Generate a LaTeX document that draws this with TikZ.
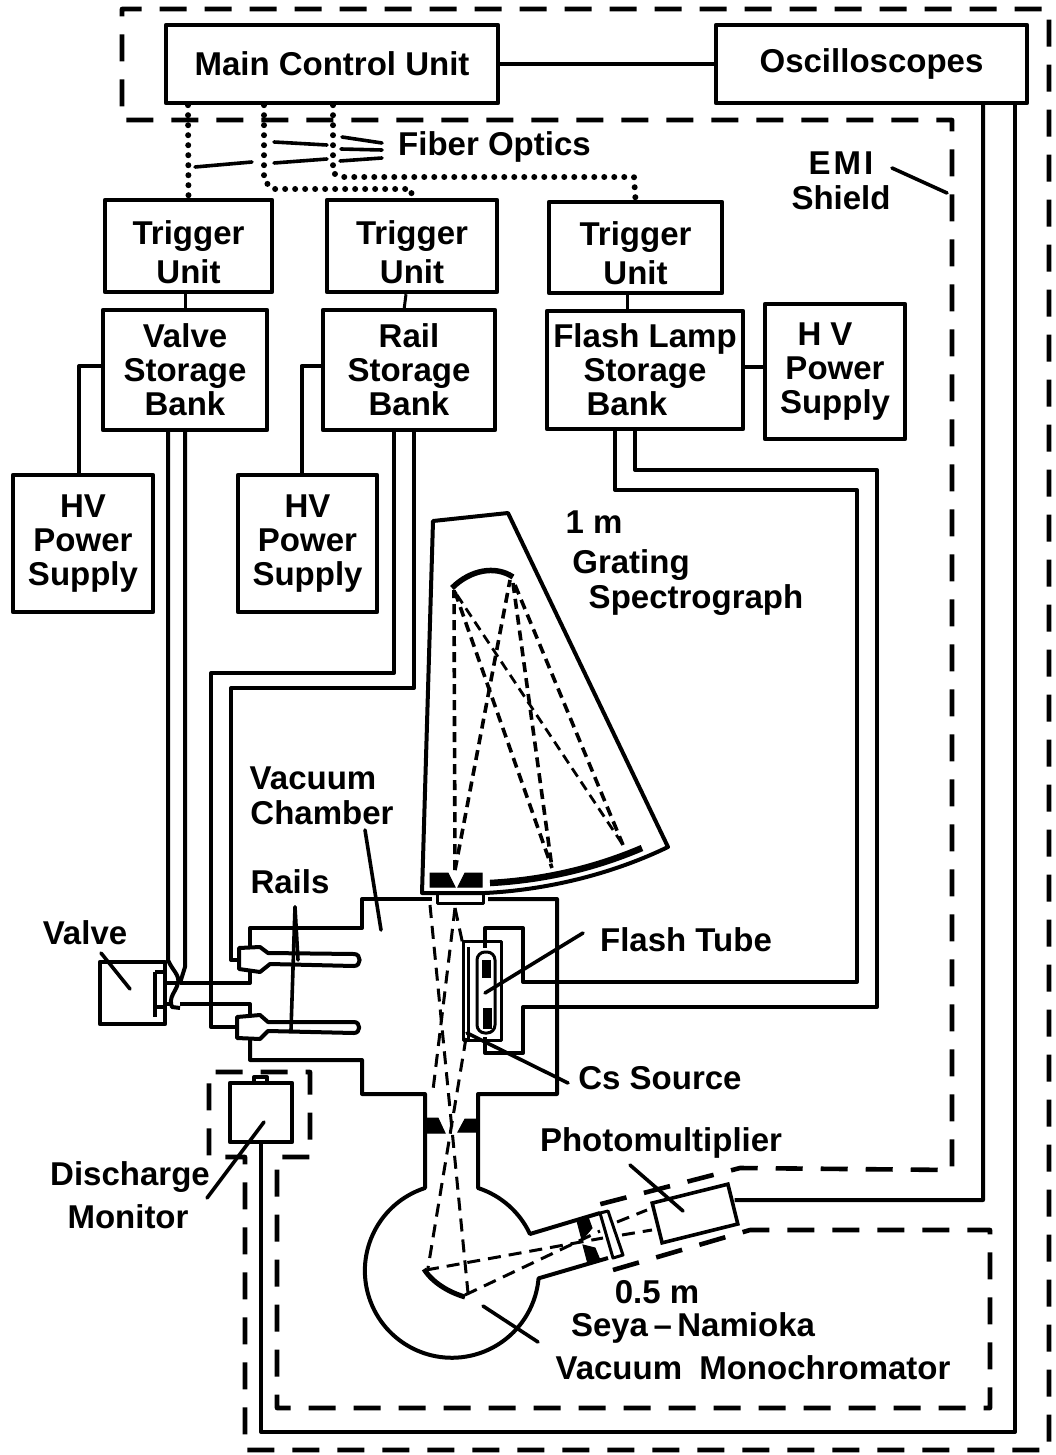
\documentclass[tikz,border=0pt]{standalone}
\usepackage{fontspec}
\setmainfont{Liberation Sans}
\usetikzlibrary{positioning,calc}
\newcommand{\trigtxt}{\rule{0pt}{36pt}Trigger\\Unit}
\tikzset{
  lbl/.style={font=\bfseries\fontsize{33}{34}\selectfont, align=center, inner sep=0pt},
  unitbox/.style={lbl, rectangle, draw=black, line width=4.4pt, line join=round},
  trigbox/.style={unitbox, font=\bfseries\fontsize{33}{39}\selectfont},
  wire/.style={line width=4pt, line join=round},
  thinwire/.style={line width=3pt, line join=round},
  ptr/.style={line width=3.6pt, line cap=round},
  shield/.style={line width=4.6pt, dash pattern=on 27pt off 18pt, line join=round},
  fibre/.style={line width=6pt, line cap=round, dash pattern=on 0pt off 10pt},
  beam/.style={line width=3pt, dash pattern=on 13pt off 8pt},
  ray/.style={line width=3.6pt, dash pattern=on 10pt off 6pt},
  baffle/.style={fill=black, draw=black, line width=1pt}
}
\begin{document}
\begin{tikzpicture}[x=1pt,y=-1pt]
  \useasboundingbox (0,0) rectangle (1056,1455);

  % control units
  \node[unitbox, minimum width=332pt, minimum height=78pt] (main) at (332,64) {Main Control Unit};
  \node[unitbox, minimum width=311pt, minimum height=78pt] (scopes) at (871.5,64) {Oscilloscopes};
  \draw[wire] (main) -- (scopes);

  \node[trigbox, minimum width=167pt, minimum height=92pt] (trigV) at (188.5,246) {\trigtxt};
  \node[trigbox, minimum width=170pt, minimum height=92pt] (trigR) at (412,246) {\trigtxt};
  \node[trigbox, minimum width=173pt, minimum height=91pt] (trigF) at (635.5,247.5) {\trigtxt};

  \node[unitbox, minimum width=164pt, minimum height=120pt] (bankV) at (185,370) {Valve\\Storage\\Bank};
  \node[unitbox, minimum width=172pt, minimum height=120pt] (bankR) at (409,370) {Rail\\Storage\\Bank};
  \node[unitbox, minimum width=196pt, minimum height=118pt] (bankF) at (645,370) {Flash Lamp\\Storage\hspace*{44pt}\\Bank\hspace*{36pt}};

  \node[unitbox, minimum width=140pt, minimum height=137pt] (hvV) at (83,543.5) {HV\\Power\\Supply};
  \node[unitbox, minimum width=139pt, minimum height=137pt] (hvR) at (307.5,543.5) {HV\\Power\\Supply};
  \node[unitbox, minimum width=140pt, minimum height=135pt] (hvF) at (835,371.5) {H V\hspace*{20pt}\\Power\\Supply};

  \draw[thinwire] (bankV.north |- trigV.south) -- (bankV.north);
  \draw[thinwire] (trigR.south -| 406,0) -- (404,310);
  \draw[thinwire] (trigF.south -| 627,0) -- (627,311);
  \draw[wire] ([yshift=4pt]bankV.west) -| ([xshift=-4pt]hvV.north);
  \draw[wire] ([yshift=4pt]bankR.west) -| ([xshift=-6pt]hvR.north);
  \draw[wire] ([yshift=3pt]bankF.east) -- ([yshift=4.5pt]hvF.west);

  % fiber optics
  \draw[fibre] ([xshift=-144pt]main.south) -- (trigV.north);
  \draw[fibre] ([xshift=-68pt]main.south) -- (264,180) -- (272,189) -- (411,189) -- (trigR.north);
  \draw[fibre] ([xshift=1pt]main.south) -- (333,173) -- (341,177) -- (634,177) -- (trigF.north);
  \node[lbl, anchor=west] (fiber) at (398,147) {Fiber Optics};
  \draw[ptr] (195,167) -- (252,162);
  \draw[ptr] (274,142) -- (327,145);
  \draw[ptr] (274,163) -- (327,159);
  \draw[ptr] (342,137) -- (382,143);
  \draw[ptr] (341,149) -- (382,150);
  \draw[ptr] (340,161) -- (382,158);

  % EMI shield
  \draw[shield] (613,1270) -- (750,1230) -- (990,1230) -- (990,1408) -- (277,1408) -- (277,1157)
    -- (310,1157) -- (310,1072) -- (209,1072) -- (209,1157) -- (245,1157) -- (245,1450)
    -- (1049,1450) -- (1049,9) -- (122,9) -- (122,120) -- (952,120) -- (952,1170) -- (740,1168) -- (597,1205);
  \node[lbl] (emi) at (841,181) {E\kern3pt M\kern3pt I\\[1pt]Shield};
  \draw[ptr] (892,168) -- (947,193);

  % spectrograph
  \draw[wire] (485,893) -- (422,893) -- (433,521) -- (508,513) -- (668,847)
    .. controls (610,875) and (545,890) .. (485,893);
  \draw[line width=6.5pt] (490,883) .. controls (545,880) and (595,868) .. (642,848);
  \draw[line width=5.5pt] (452,588) .. controls (470,570) and (495,565) .. (513,577);
  \fill[baffle] (430,873) -- (448,873) -- (455,887) -- (430,887) -- cycle;
  \fill[baffle] (458,887) -- (465,873) -- (482,873) -- (482,887) -- cycle;
  \draw[thinwire] (437,893) -- (437,903) -- (483,903) -- (483,893);
  \draw[ray] (455,870) -- (454,590);
  \draw[ray] (455,870) -- (510,580);
  \draw[ray] (455,592) -- (552,868);
  \draw[ray, line width=2.8pt] (457,595) -- (623,845);
  \draw[ray] (513,583) -- (552,868);
  \draw[ray] (515,585) -- (623,845);
  \node[lbl] (onem) at (594,522) {1 m};
  \node[lbl] (grating) at (631,565) {Grating};
  \node[lbl] (spectro) at (696,600) {Spectrograph};

  % storage bank leads
  \draw[wire] ([xshift=-15pt]bankR.south) -- (394,673) -- (211,673) -- (211,1027) -- (237,1027);
  \draw[wire] ([xshift=5pt]bankR.south) -- (414,688) -- (231,688) -- (231,960) -- (239,960);
  \draw[wire] ([xshift=-30pt]bankF.south) -- (615,490) -- (857,490) -- (857,982) -- (523,982) -- (523,928) -- (485,928) -- (485,948);
  \draw[wire] ([xshift=-10pt]bankF.south) -- (635,470) -- (877,470) -- (877,1007) -- (523,1007) -- (523,1053) -- (485,1053) -- (485,1037);

  % vacuum chamber and rails
  \draw[wire] (250,948) -- (250,928) -- (362,928) -- (362,899) -- (432,899);
  \draw[wire] (488,899) -- (557,899) -- (557,1094) -- (478,1094) -- (478,1188)
    arc[start angle=-72,end angle=-25,radius=87] -- (600,1213);
  \draw[wire] (250,1039) -- (250,1060) -- (362,1060) -- (362,1094) -- (425,1094) -- (425,1188)
    arc[start angle=-108,end angle=-355,radius=87] -- (608,1258);
  \draw[wire] (239,948) -- (260,947) -- (268,953) -- (354,954) to[out=0,in=0,looseness=1.6] (354,966)
    -- (270,964) -- (260,972) -- (239,969) -- cycle;
  \draw[wire] (237,1017) -- (260,1015) -- (268,1022) -- (354,1022) to[out=0,in=0,looseness=1.6] (354,1033)
    -- (268,1031) -- (260,1039) -- (237,1038) -- cycle;
  \draw[wire] (250,972) -- (250,983) -- (180,983);
  \draw[wire] (250,1015) -- (250,1004) -- (180,1004);

  % valve
  \node[unitbox, minimum width=65pt, minimum height=62pt] (valve) at (132.5,993) {};
  \draw[wire] (155,972) -- (155,1017);
  \draw[wire] (155,972) -- (165,972);
  \draw[wire] (155,1007) -- (165,1007);
  \draw[wire] (165,983) -- (178,983);
  \draw[wire] (165,1004) -- (172,1004);
  \draw[wire] ([xshift=-17pt]bankV.south) -- (168,960) .. controls (172,970) and (180,975) .. (178,983)
    .. controls (176,992) and (168,997) .. (172,1007) -- (180,1008);
  \draw[wire] (bankV.south) -- (185,967) -- (180,983);
  \node[lbl] (valvetxt) at (85,933) {Valve};
  \draw[ptr] (101,953) -- (130,989);

  % flash tube
  \draw[thinwire] (463,941) rectangle (501,1040);
  \draw[thinwire] (468,947) -- (468,1040);
  \draw[thinwire, rounded corners=8pt] (477,952) rectangle (495,1033);
  \fill[baffle] (482,960) rectangle (490,977);
  \fill[baffle] (483,1008) rectangle (491,1028);
  \node[lbl] (flashtxt) at (686,940) {Flash Tube};
  \draw[ptr] (583,933) -- (485,993);
  \node[lbl] (cstxt) at (660,1078) {Cs Source};
  \draw[ptr] (568,1083) -- (467,1033);

  % chamber beams
  \draw[beam] (430,905) -- (468,1293);
  \draw[beam] (466,1038) -- (428,1268);
  \draw[beam] (455,908) -- (433,1090);
  \draw[beam] (455,908) -- (463,945);
  \fill[baffle] (426,1118) -- (438,1118) -- (445,1133) -- (426,1133) -- cycle;
  \fill[baffle] (465,1119) -- (478,1119) -- (478,1132) -- (458,1132) -- cycle;
  \node[lbl] (vactxt) at (313,778) {Vacuum};
  \node[lbl] (chamtxt) at (322,813) {Chamber};
  \draw[ptr] (365,830) -- (381,930);
  \node[lbl] (railstxt) at (290,882) {Rails};
  \draw[ptr] (295,907) -- (298,960);
  \draw[ptr] (295,907) -- (291,1030);

  % discharge monitor
  \node[unitbox, minimum width=62pt, minimum height=59pt] (monitor) at (261,1112.5) {};
  \draw[wire] (254,1083) -- (254,1077) -- (267,1077) -- (267,1083);
  \node[lbl] (distxt) at (130,1177) {Discharge};
  \node[lbl] (montxt) at (128,1217) {Monitor};
  \draw[ptr] (264,1122) -- (207,1198);

  % monochromator
  \draw[thinwire] (600,1213) -- (608,1211) -- (623,1255) -- (613,1258) -- cycle;
  \fill[baffle] (577,1221) -- (588,1217) -- (592,1228) -- (582,1240) -- cycle;
  \fill[baffle] (583,1245) -- (595,1248) -- (600,1260) -- (588,1264) -- cycle;
  \draw[line width=5pt] (424,1269) .. controls (432,1282) and (448,1292) .. (465,1297);
  \draw[beam] (426,1270) -- (603,1238);
  \draw[beam] (465,1295) -- (600,1231);
  \draw[beam] (622,1235) -- (652,1230);
  \draw[beam] (617,1222) -- (647,1210);
  \node[draw=black, line width=3.6pt, minimum width=78pt, minimum height=41pt, rotate=14, inner sep=0pt] (pmt) at (695,1213.5) {};
  \node[lbl] (pmtxt) at (661,1143) {Photomultiplier};
  \draw[ptr] (630,1165) -- (683,1211);
  \node[lbl] (halfm) at (657,1292) {0.5 m};
  \node[lbl] (seya) at (693,1328) {Seya\,--\,Namioka};
  \node[lbl] (vacmono) at (753,1368) {Vacuum\hspace{8pt} Monochromator};
  \draw[ptr] (483,1306) -- (538,1342);

  % oscilloscope leads
  \draw[wire] ([xshift=111.5pt]scopes.south) -- (983,1200) -- ([yshift=3.5pt]pmt.east);
  \draw[wire] ([xshift=143.5pt]scopes.south) -- (1015,1432) -- (261,1432) -- (monitor.south);
\end{tikzpicture}
\end{document}
